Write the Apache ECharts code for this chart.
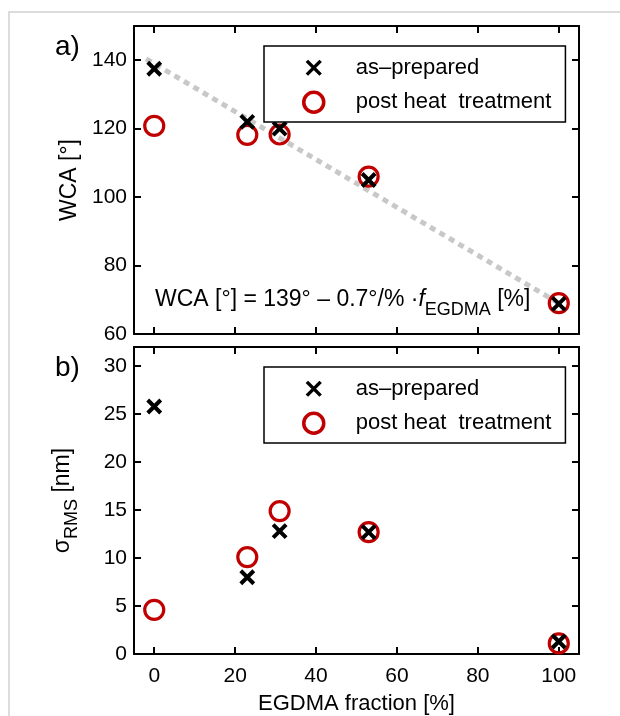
<!DOCTYPE html>
<html>
<head>
<meta charset="utf-8">
<script src="https://cdn.jsdelivr.net/npm/echarts@6/dist/echarts.min.js"></script>
<style>
  html, body { margin: 0; padding: 0; background: #fff; }
  #main { width: 620px; height: 716px; }
</style>
</head>
<body>
<div id="main"></div>
<script>
// data
const fraction = [0, 23, 31, 53, 100];            // EGDMA fraction [%]
const wcaPrepared = [137.5, 122, 120, 105, 68.8];  // WCA [°], as-prepared
const wcaHeat = [120.8, 118.2, 118.3, 106, 69];    // WCA [°], post heat treatment
const rmsPrepared = [25.8, 8.0, 12.8, 12.7, 1.3];  // sigma RMS [nm], as-prepared
const rmsHeat = [4.6, 10.1, 14.9, 12.7, 1.1];      // sigma RMS [nm], post heat treatment
// linear fit WCA = 139 - 0.7 * f
const fitX = [-2, 100];
const fitY = [140.4, 69];

const xTicks = [0, 20, 40, 60, 80, 100];
const wcaTicks = [60, 80, 100, 120, 140];
const rmsTicks = [0, 5, 10, 15, 20, 25, 30];

const NAME_A = 'as\u2013prepared';
const NAME_B = 'post heat  treatment';
const FONT = 'Liberation Sans, Arial, sans-serif';
const RED = '#c00000';
const CROSS = 'path://M0,0L10,10M10,0L0,10';

const pairs = (xs, ys) => xs.map((x, i) => [x, ys[i]]);

const myChart = echarts.init(document.getElementById('main'));

function xAx(grid, pos, showLabel, name) {
  return {
    type: 'value', gridIndex: grid, position: pos, min: -5, max: 105,
    splitLine: { show: false },
    axisLine: { show: true, onZero: false, lineStyle: { color: '#000', width: 2 } },
    axisTick: { show: true, inside: true, length: 7, lineStyle: { color: '#000', width: 2 }, customValues: xTicks },
    axisLabel: { show: showLabel, customValues: xTicks, color: '#000', fontSize: 21, fontFamily: FONT, margin: 12 },
    name: name || '', nameLocation: 'middle', nameGap: 39,
    nameTextStyle: { color: '#000', fontSize: 22, fontFamily: FONT }
  };
}
function yAx(grid, pos, min, max, ticks, showLabel, name) {
  return {
    type: 'value', gridIndex: grid, position: pos, min: min, max: max,
    splitLine: { show: false },
    axisLine: { show: true, onZero: false, lineStyle: { color: '#000', width: 2 } },
    axisTick: { show: true, inside: true, length: 7, lineStyle: { color: '#000', width: 2 }, customValues: ticks },
    axisLabel: { show: showLabel, customValues: ticks, color: '#000', fontSize: 21, fontFamily: FONT, margin: 7 },
    name: name || '', nameLocation: 'middle', nameGap: 53, nameRotate: 90,
    nameTextStyle: {
      color: '#000', fontSize: 23, fontFamily: FONT,
      rich: {
        m: { fontSize: 23, fontFamily: FONT, lineHeight: 36, color: '#000' },
        sub: { fontSize: 18, fontFamily: FONT, lineHeight: 19, verticalAlign: 'bottom', color: '#000' }
      }
    }
  };
}

// scatter defaults to opacity 0.8, the original marks are fully opaque
const crossStyle = { color: '#000', borderColor: '#000', borderWidth: 4, opacity: 1 };
const circleStyle = { color: 'rgba(0,0,0,0)', borderColor: RED, borderWidth: 3.2, opacity: 1 };

function legendAt(top) {
  return {
    orient: 'vertical', left: 264, top: top,
    data: [
      { name: NAME_A, icon: 'path://M2.5,2.5L13.5,13.5M13.5,2.5L2.5,13.5M0,0M16,16' },
      { name: NAME_B }
    ],
    selectedMode: false,
    backgroundColor: '#fff', borderColor: '#000', borderWidth: 1.5, borderRadius: 0,
    padding: [10, 14, 8, 38],
    itemWidth: 20, itemHeight: 20, itemGap: 11,
    itemStyle: { borderWidth: 3.5, opacity: 1 },
    textStyle: { fontSize: 22, fontFamily: FONT, color: '#000', padding: [0, 0, 0, 27] }
  };
}

const option = {
  backgroundColor: '#fff',
  animation: false,
  grid: [
    { left: 134, top: 26, width: 445, height: 308 },
    { left: 134, top: 347, width: 445, height: 309 }
  ],
  xAxis: [
    xAx(0, 'bottom', false),
    xAx(0, 'top', false),
    xAx(1, 'bottom', true, 'EGDMA fraction [%]'),
    xAx(1, 'top', false)
  ],
  yAxis: [
    yAx(0, 'left', 60, 150, wcaTicks, true, 'WCA [°]'),
    yAx(0, 'right', 60, 150, wcaTicks, false),
    yAx(1, 'left', 0, 32, rmsTicks, true, '{m|σ}{sub|RMS}{m| [nm]}'),
    yAx(1, 'right', 0, 32, rmsTicks, false)
  ],
  legend: [legendAt(46), legendAt(367)],
  graphic: [
    { type: 'rect', shape: { x: 9, y: 12, width: 700, height: 800 }, style: { fill: 'none', stroke: '#dcdcdc', lineWidth: 2 }, silent: true },
    { type: 'text', x: 55, y: 47, style: { text: 'a)', font: '28px ' + FONT, fill: '#000', verticalAlign: 'middle' } },
    { type: 'text', x: 55, y: 368, style: { text: 'b)', font: '28px ' + FONT, fill: '#000', verticalAlign: 'middle' } },
    {
      type: 'text', x: 155, y: 300, z: 10,
      style: {
        text: '{m|WCA [°] = 139° – 0.7°/% ·}{i|f}{sub|EGDMA}{m| [%]}',
        verticalAlign: 'middle',
        rich: {
          m: { fontSize: 23, fontFamily: FONT, lineHeight: 38, fill: '#000' },
          i: { fontSize: 23, fontFamily: FONT, fontStyle: 'italic', lineHeight: 38, fill: '#000' },
          sub: { fontSize: 18, fontFamily: FONT, lineHeight: 18, verticalAlign: 'bottom', fill: '#000' }
        }
      }
    }
  ],
  series: [
    {
      type: 'line', name: 'fit', xAxisIndex: 0, yAxisIndex: 0, z: 1,
      data: pairs(fitX, fitY), symbol: 'none',
      lineStyle: { color: '#c8c8c8', width: 5, type: [6, 5] }
    },
    {
      type: 'scatter', name: NAME_B, xAxisIndex: 0, yAxisIndex: 0, z: 2,
      data: pairs(fraction, wcaHeat), symbol: 'circle', symbolSize: 19, itemStyle: circleStyle
    },
    {
      type: 'scatter', name: NAME_A, xAxisIndex: 0, yAxisIndex: 0, z: 3,
      data: pairs(fraction, wcaPrepared), symbol: CROSS, symbolSize: 13, itemStyle: crossStyle
    },
    {
      type: 'scatter', name: NAME_B, xAxisIndex: 2, yAxisIndex: 2, z: 2,
      data: pairs(fraction, rmsHeat), symbol: 'circle', symbolSize: 19, itemStyle: circleStyle
    },
    {
      type: 'scatter', name: NAME_A, xAxisIndex: 2, yAxisIndex: 2, z: 3,
      data: pairs(fraction, rmsPrepared), symbol: CROSS, symbolSize: 13, itemStyle: crossStyle
    }
  ]
};

option && myChart.setOption(option);
</script>
</body>
</html>
